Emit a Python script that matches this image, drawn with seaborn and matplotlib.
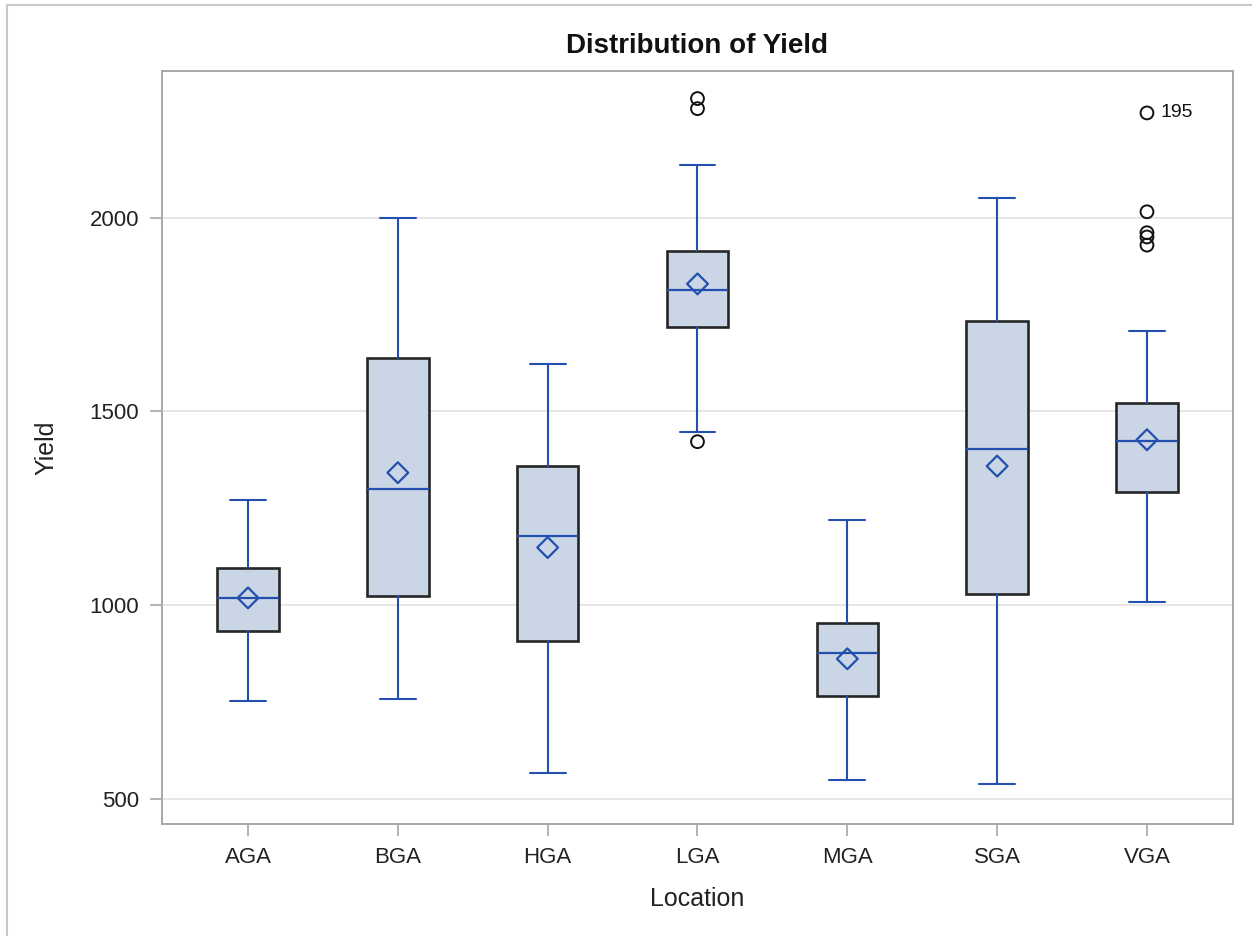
import matplotlib
matplotlib.use("Agg")
import matplotlib.pyplot as plt
import seaborn as sns
import pandas as pd
from matplotlib.patches import Rectangle

# ---- data ----
locations = ["AGA", "BGA", "HGA", "LGA", "MGA", "SGA", "VGA"]
whisker_low = [752, 758, 567, 1448, 550, 540, 1009]
q1 = [933, 1024, 909, 1719, 767, 1029, 1292]
median = [1020, 1300, 1180, 1814, 878, 1404, 1424]
q3 = [1095, 1638, 1358, 1914, 955, 1734, 1522]
whisker_high = [1271, 2000, 1623, 2135, 1221, 2050, 1708]
mean = [1019, 1342, 1149, 1829, 862, 1359, 1427]
outlier_location = ["LGA", "LGA", "LGA", "VGA", "VGA", "VGA", "VGA", "VGA"]
outlier_yield = [2307, 2281, 1422, 2270, 2015, 1961, 1950, 1929]
outlier_label = ["", "", "", "195", "", "", "", ""]
yticks = [500, 1000, 1500, 2000]

FILL = "#CAD5E5"
BLUE = "#2350AE"
EDGE = "#262626"

sns.set_theme(style="white")
plt.rcParams["font.family"] = ["Liberation Sans", "DejaVu Sans"]

fig = plt.figure(figsize=(12.52, 9.36), dpi=100)
ax = fig.add_axes([0.1294, 0.1197, 0.9848 - 0.1294, 0.9241 - 0.1197])

pos = list(range(len(locations)))
stats = []
for i, loc in enumerate(locations):
    stats.append(dict(label=loc, whislo=whisker_low[i], q1=q1[i], med=median[i],
                      q3=q3[i], whishi=whisker_high[i], mean=mean[i], fliers=[]))

ax.bxp(stats, positions=pos, widths=0.41, capwidths=0.24, patch_artist=True,
       showmeans=False, showfliers=False,
       boxprops=dict(facecolor=FILL, edgecolor=EDGE, linewidth=1.9),
       whiskerprops=dict(color=BLUE, linewidth=1.5),
       capprops=dict(color=BLUE, linewidth=1.5),
       medianprops=dict(color=BLUE, linewidth=1.6))

for p in ax.patches:
    p.set_zorder(2)

mean_df = pd.DataFrame({"pos": pos, "mean": mean})
sns.scatterplot(data=mean_df, x="pos", y="mean", marker="D", s=112,
                facecolor="none", edgecolor=BLUE, linewidth=1.6, ax=ax, zorder=5)

out_df = pd.DataFrame({"pos": [locations.index(l) for l in outlier_location],
                       "y": outlier_yield, "lab": outlier_label})
sns.scatterplot(data=out_df, x="pos", y="y", marker="o", s=85,
                facecolor="none", edgecolor="#111111", linewidth=1.4, ax=ax, zorder=5)
for _, r in out_df.iterrows():
    if r["lab"]:
        ax.annotate(r["lab"], (r["pos"], r["y"]), xytext=(10, 0),
                    textcoords="offset points", va="center", ha="left",
                    fontsize=14, color="#111111")

ax.set_xlim(-0.574, 6.574)
ax.set_ylim(436, 2378)
ax.set_xticks(pos)
ax.set_xticklabels(locations)
ax.set_yticks(yticks)
ax.set_yticklabels([str(v) for v in yticks])
ax.yaxis.grid(True, color="#E4E4E4", linewidth=1.3, zorder=0)
ax.xaxis.grid(False)
ax.set_axisbelow(True)

for s in ax.spines.values():
    s.set_color("#A4A8AC")
    s.set_linewidth(1.4)

ax.tick_params(axis="both", which="major", direction="out", length=8.5, width=1.2,
               color="#A4A8AC", labelsize=16, labelcolor="#222222", pad=8,
               bottom=True, left=True)

ax.set_xlabel("Location", fontsize=18, color="#222222", labelpad=14)
ax.set_ylabel("Yield", fontsize=18, color="#222222", labelpad=22)
ax.set_title("Distribution of Yield", fontsize=20, fontweight="bold",
             color="#111111", pad=13)

# outer frame (top and left visible in the reference)
fig.patches.append(Rectangle((7 / 1252, -0.05), 1.2, 1 - 5 / 936 + 0.05,
                             transform=fig.transFigure, fill=False,
                             edgecolor="#C8C8C8", linewidth=1.5))

fig.savefig("out.png", dpi=100)
